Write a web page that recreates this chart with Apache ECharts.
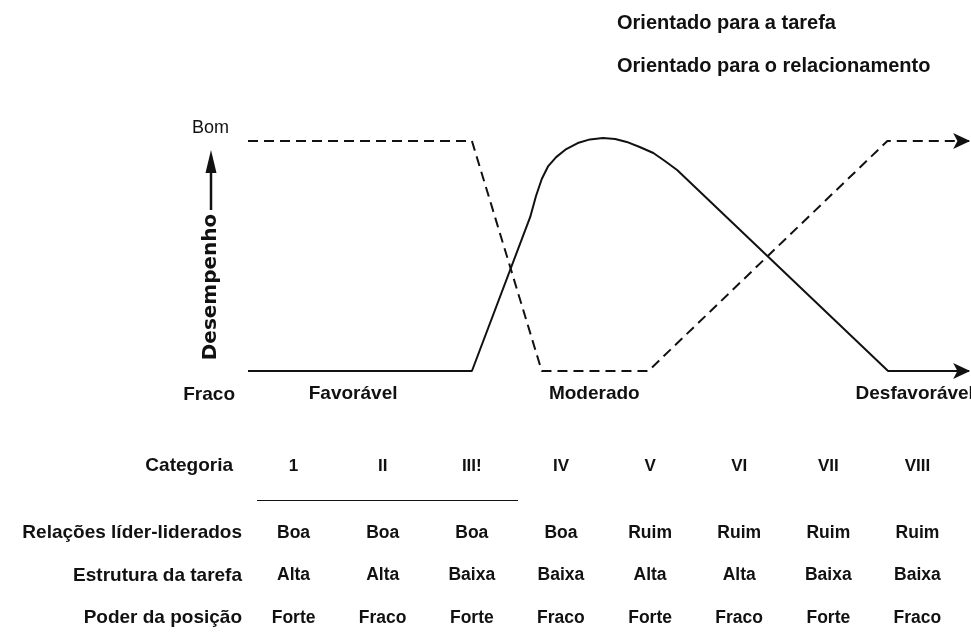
<!DOCTYPE html>
<html>
<head>
<meta charset="utf-8">
<script src="https://cdn.jsdelivr.net/npm/echarts@6/dist/echarts.min.js"></script>
<style>
  html, body { margin: 0; padding: 0; background: #fff; }
  #main { width: 971px; height: 633px; }
</style>
</head>
<body>
<div id="main"></div>
<script>
// desempenho x favorabilidade da situação (unidades relativas 0-100 / 0-10)
var seriesNames = ['Orientado para a tarefa', 'Orientado para o relacionamento'];
var taskX = [0, 31.1, 40.8, 55.6, 88.8, 100.3];
var taskY = [10, 10, 0, 0, 10, 10];
var relX = [0, 31.1, 39.2, 40.0, 40.8, 41.7, 42.8, 44.2, 45.8, 47.5, 49.3, 51.0, 52.6, 54.4, 56.3, 57.9, 59.6, 88.9, 100.3];
var relY = [0, 0, 6.70, 7.61, 8.35, 8.91, 9.30, 9.65, 9.91, 10.07, 10.13, 10.09, 9.96, 9.74, 9.48, 9.13, 8.74, 0, 0];

var zoneLabels = ['Favorável', 'Moderado', 'Desfavorável'];
var zoneTicks = [14.6, 48.1, 92.6];
var scaleLabels = ['Fraco', 'Bom'];
var axisTitle = 'Desempenho';

var categories = ['1', 'II', 'III!', 'IV', 'V', 'VI', 'VII', 'VIII'];
var rowLabels = ['Relações líder-liderados', 'Estrutura da tarefa', 'Poder da posição'];
var relacoes = ['Boa', 'Boa', 'Boa', 'Boa', 'Ruim', 'Ruim', 'Ruim', 'Ruim'];
var estrutura = ['Alta', 'Alta', 'Baixa', 'Baixa', 'Alta', 'Alta', 'Baixa', 'Baixa'];
var poder = ['Forte', 'Fraco', 'Forte', 'Fraco', 'Forte', 'Fraco', 'Forte', 'Fraco'];

var ink = '#111';
var fontFam = '"Liberation Sans", Arial, sans-serif';

function toLine(xs, ys) {
    var out = [];
    for (var i = 0; i < xs.length; i++) {
        out.push([xs[i], ys[i]]);
    }
    // ponta de seta no último ponto
    out[out.length - 1] = {
        value: out[out.length - 1],
        symbol: 'arrow',
        symbolSize: [12, 17],
        symbolRotate: -90
    };
    return out;
}

var cells = [];
[relacoes, estrutura, poder].forEach(function (row, r) {
    row.forEach(function (txt, c) {
        cells.push({ value: [c, r], name: txt });
    });
});

var myChart = echarts.init(document.getElementById('main'));
var option = {
    animation: false,
    backgroundColor: '#fff',
    textStyle: { fontFamily: fontFam, color: ink },
    legend: {
        data: seriesNames,
        orient: 'vertical',
        left: 607,
        top: 8,
        icon: 'none',
        itemWidth: 0,
        itemHeight: 20,
        itemGap: 23,
        selectedMode: false,
        textStyle: { fontFamily: fontFam, fontWeight: 'bold', fontSize: 20, color: ink }
    },
    grid: [
        { left: 248, right: 3, top: 141, bottom: 262, containLabel: false, outerBoundsMode: 'none' },
        { left: 249, right: 9, top: 533, bottom: 15, containLabel: false, outerBoundsMode: 'none' }
    ],
    xAxis: [{
        type: 'value',
        gridIndex: 0,
        min: 0,
        max: 100,
        axisLine: { show: false },
        axisTick: { show: false },
        splitLine: { show: false },
        axisLabel: {
            customValues: zoneTicks,
            margin: 13,
            fontWeight: 'bold',
            fontSize: 19,
            color: ink,
            formatter: function (value) {
                return zoneLabels[zoneTicks.indexOf(value)] || '';
            }
        }
    }, {
        type: 'category',
        gridIndex: 1,
        data: categories,
        position: 'top',
        offset: 67,
        axisLine: { show: false },
        axisTick: { show: false },
        axisLabel: { margin: 0, verticalAlign: 'middle', fontWeight: 'bold', fontSize: 17, color: ink },
        name: 'Categoria',
        nameLocation: 'start',
        nameGap: 16,
        nameTextStyle: { fontWeight: 'bold', fontSize: 19, color: ink, verticalAlign: 'middle' }
    }],
    yAxis: [{
        type: 'value',
        gridIndex: 0,
        min: 0,
        max: 10,
        axisLine: { show: false },
        axisTick: { show: false },
        axisLabel: { show: false },
        splitLine: { show: false }
    }, {
        type: 'category',
        gridIndex: 1,
        data: rowLabels,
        inverse: true,
        boundaryGap: false,
        axisLine: { show: false },
        axisTick: { show: false },
        axisLabel: { margin: 7, fontWeight: 'bold', fontSize: 19, color: ink }
    }],
    series: [{
        name: seriesNames[0],
        type: 'line',
        symbol: 'none',
        clip: false,
        itemStyle: { color: ink },
        lineStyle: { color: ink, width: 2, type: [10, 6] },
        data: toLine(taskX, taskY)
    }, {
        name: seriesNames[1],
        type: 'line',
        symbol: 'none',
        clip: false,
        itemStyle: { color: ink },
        lineStyle: { color: ink, width: 2 },
        data: toLine(relX, relY)
    }, {
        name: 'tabela',
        type: 'scatter',
        xAxisIndex: 1,
        yAxisIndex: 1,
        symbolSize: 0,
        itemStyle: { opacity: 1 },
        label: {
            show: true,
            position: 'inside',
            formatter: '{b}',
            fontWeight: 'bold',
            fontSize: 17.5,
            color: ink,
            opacity: 1
        },
        data: cells
    }],
    graphic: [
        { type: 'text', x: 192, y: 128, style: { text: scaleLabels[1], font: '18px ' + fontFam, fill: ink, verticalAlign: 'middle' } },
        { type: 'text', x: 235, y: 395, style: { text: scaleLabels[0], font: 'bold 19px ' + fontFam, fill: ink, align: 'right', verticalAlign: 'middle' } },
        { type: 'text', x: 211, y: 287, rotation: Math.PI / 2, style: { text: axisTitle, font: 'bold 20px "DejaVu Sans", sans-serif', fill: ink, align: 'center', verticalAlign: 'middle' } },
        { type: 'line', shape: { x1: 211, y1: 210, x2: 211, y2: 168 }, style: { stroke: ink, lineWidth: 2.5 } },
        { type: 'polygon', shape: { points: [[211, 150], [205.5, 173], [216.5, 173]] }, style: { fill: ink } },
        { type: 'line', shape: { x1: 257, y1: 500.5, x2: 518, y2: 500.5 }, style: { stroke: ink, lineWidth: 1 } }
    ]
};
myChart.setOption(option);
</script>
</body>
</html>
